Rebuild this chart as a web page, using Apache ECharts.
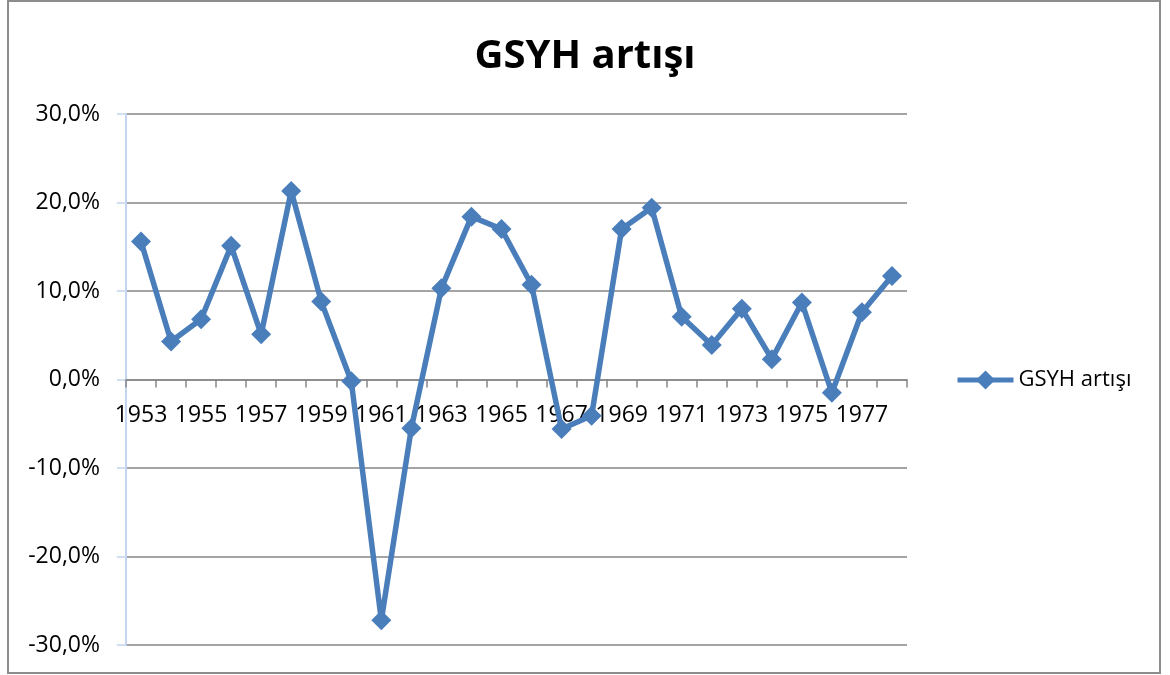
<!DOCTYPE html>
<html>
<head>
<meta charset="utf-8">
<script src="https://cdn.jsdelivr.net/npm/echarts@6/dist/echarts.min.js"></script>
<style>
html,body{margin:0;padding:0;background:#fff;}
#chart{width:1170px;height:675px;}
</style>
</head>
<body>
<div id="chart"></div>
<script>
const years = ['1953','1954','1955','1956','1957','1958','1959','1960','1961','1962','1963','1964','1965','1966','1967','1968','1969','1970','1971','1972','1973','1974','1975','1976','1977','1978'];
const growth = [15.6, 4.3, 6.8, 15.1, 5.1, 21.3, 8.8, -0.2, -27.2, -5.5, 10.3, 18.4, 17.0, 10.7, -5.6, -4.1, 17.0, 19.4, 7.1, 3.9, 8.0, 2.3, 8.7, -1.5, 7.6, 11.7];
const seriesName = 'GSYH artışı';
const titleText = 'GSYH artışı';

const font = 'Open Sans';
const chart = echarts.init(document.getElementById('chart'));
chart.setOption({
  animation: false,
  backgroundColor: '#fff',
  graphic: [{
    type: 'rect',
    shape: {x: 8, y: 1, width: 1152, height: 672},
    style: {fill: 'none', stroke: '#8c8c8c', lineWidth: 2},
    silent: true, z: -1
  }],
  title: {
    text: titleText,
    left: 'center',
    top: 32,
    textStyle: {fontFamily: font, fontWeight: 'bold', fontSize: 40, color: '#000'}
  },
  legend: {
    data: [seriesName],
    left: 950,
    top: 364,
    itemWidth: 56,
    itemHeight: 24,
    itemGap: 0,
    lineStyle: {width: 5},
    textStyle: {fontFamily: font, fontSize: 22, color: '#000'}
  },
  grid: {left: 126, right: 263, top: 114, bottom: 30, containLabel: false, outerBoundsMode: 'none'},
  xAxis: {
    type: 'category',
    data: years,
    boundaryGap: true,
    offset: -265.5,
    axisLine: {onZero: false, lineStyle: {color: '#868686', width: 1.5}},
    axisTick: {show: true, interval: 0, length: 8, lineStyle: {color: '#868686', width: 1.5}},
    axisLabel: {interval: 1, fontFamily: font, fontSize: 23, color: '#000', margin: 24},
    splitLine: {show: false}
  },
  yAxis: {
    type: 'value',
    min: -30, max: 30, interval: 10,
    axisLine: {show: true, lineStyle: {color: '#c3d5ef', width: 2}},
    axisTick: {show: true, length: 9, lineStyle: {color: '#c3d5ef', width: 1.5}},
    axisLabel: {
      fontFamily: font, fontSize: 23, color: '#000', margin: 26,
      formatter: v => v.toFixed(1).replace('.', ',') + '%'
    },
    splitLine: {show: true, lineStyle: {color: '#868686', width: 1.5}}
  },
  series: [{
    name: seriesName,
    type: 'line',
    data: growth,
    symbol: 'diamond',
    symbolSize: 20,
    itemStyle: {color: '#4a7ebb'},
    lineStyle: {color: '#4a7ebb', width: 5.5},
    z: 5
  }]
});
</script>
</body>
</html>
